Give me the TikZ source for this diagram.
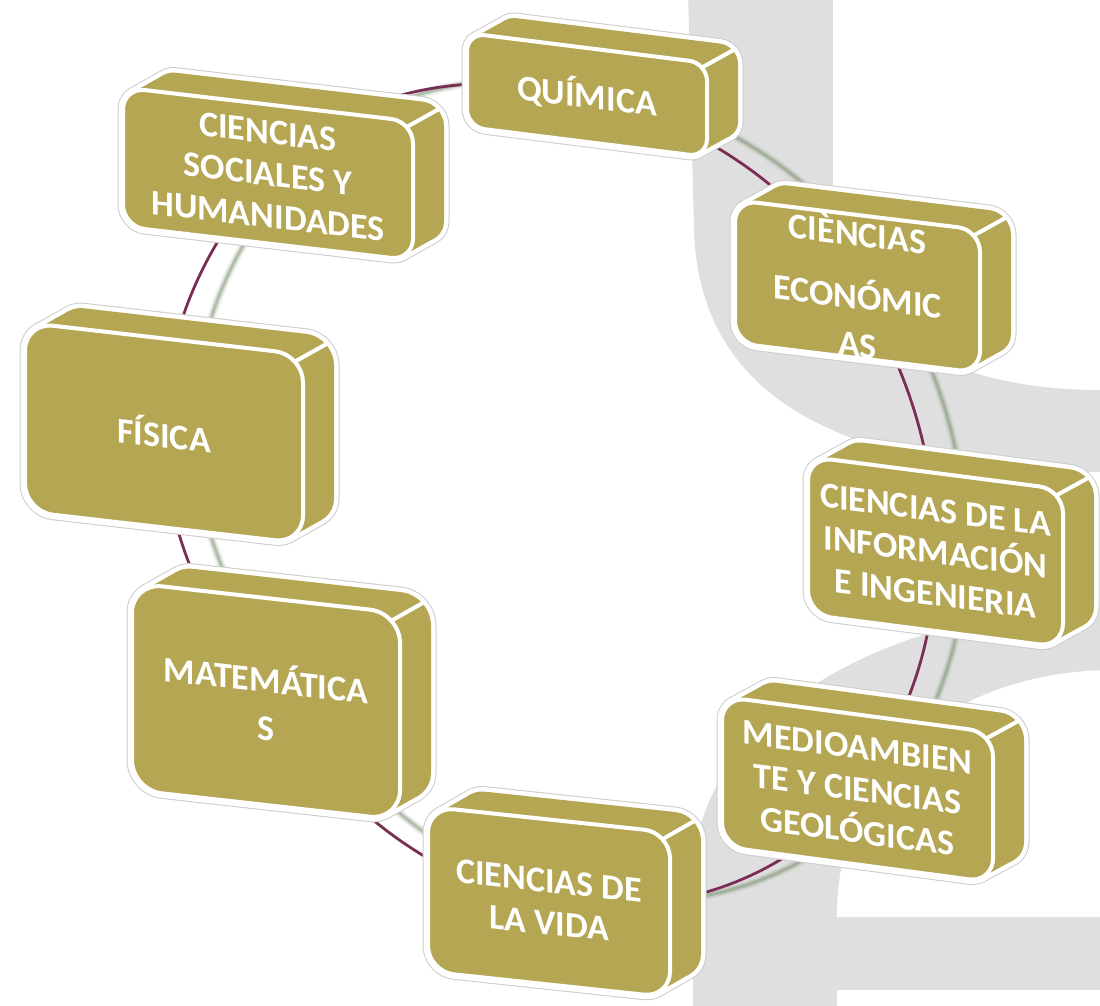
\documentclass[tikz,border=0pt]{standalone}
\usepackage{fontspec}
\setmainfont{Carlito}
\pgfdeclarelayer{deep}
\pgfdeclarelayer{links}
\pgfsetlayers{deep,links,main}
\definecolor{boxolive}{RGB}{181,166,84}
\definecolor{linkmaroon}{RGB}{122,46,86}
\definecolor{bggrey}{RGB}{223,223,223}
\definecolor{shadowgreen}{RGB}{115,140,105}
\tikzset{
  frontface/.style={draw=white, line width=4pt, fill=boxolive, text=white, align=center,
    inner sep=0pt, outer sep=0pt, font=\bfseries\fontsize{36}{42}\selectfont},
  outerhalo/.style={draw=black!20, line width=11pt, line join=round, line cap=round},
  outerwhite/.style={draw=white, line width=9pt, line join=round, line cap=round},
  bodyfill/.style={fill=boxolive},
  edgeline/.style={draw=white, line width=4pt, line cap=round},
  link/.style={draw=linkmaroon, line width=2.8pt, looseness=0.9},
  linkshadow/.style={draw=shadowgreen, looseness=0.9}
}
% the two faces (front and back) of a box, in the box's own frame
\newcommand{\obshapes}[2]{%
  \path[#1, rounded corners=#2pt] (-\obw+31,-\obh+21) rectangle (\obw+31,\obh+21);
  \path[#1, rounded corners=#2pt] (-\obw,-\obh) rectangle (\obw,\obh);
}
% #1 name, #2 x, #3 y (image), #4 width, #5 height, #6 corner radius, #7 slant, #8 text
\newcommand{\olivebox}[8]{%
  \begin{scope}[shift={(#2,-#3)}, yslant=-#7]
    \pgfmathsetmacro{\obw}{#4/2}
    \pgfmathsetmacro{\obh}{#5/2}
    \pgfmathsetmacro{\obax}{-\obw+0.4453*#6}
    \pgfmathsetmacro{\obay}{\obh-0.168*#6}
    \pgfmathsetmacro{\obbx}{\obw-0.4453*#6}
    \pgfmathsetmacro{\obby}{-\obh+0.168*#6}
    \pgfmathsetmacro{\obex}{\obw-0.293*#6}
    \pgfmathsetmacro{\obey}{\obh-0.293*#6}
    \obshapes{outerhalo}{#6}
    \path[outerhalo] (\obax,\obay) -- ++(31,21) (\obbx,\obby) -- ++(31,21);
    \obshapes{outerwhite}{#6}
    \path[outerwhite] (\obax,\obay) -- ++(31,21) (\obbx,\obby) -- ++(31,21);
    \obshapes{bodyfill}{#6}
    \fill[boxolive] (\obax,\obay) -- ++(31,21) -- (\obbx+31,\obby+21) -- (\obbx,\obby) -- cycle;
    \path[edgeline] (\obex,\obey) -- ++(31,21);
    \node[frontface, minimum width=#4pt, minimum height=#5pt, rounded corners=#6pt,
      transform shape] (#1) at (0,0) {#8};
  \end{scope}}
\newcommand{\cyclelinks}[1]{%
  \draw[#1] (qui.center) to[out=-14,in=121] (eco.center);
  \draw[#1] (eco.center) to[out=-59,in=90] (inf.center);
  \draw[#1] (inf.center) to[out=-90,in=54] (med.center);
  \draw[#1] (med.center) to[out=-126,in=-9] (vid.center);
  \draw[#1] (vid.center) to[out=171,in=-55] (mat.center);
  \draw[#1] (mat.center) to[out=125,in=-90] (fis.center);
  \draw[#1] (fis.center) to[out=90,in=-132] (soc.center);
  \draw[#1] (soc.center) to[out=48,in=166] (qui.center);
}
\begin{document}
\begin{tikzpicture}[x=1pt,y=1pt]
\useasboundingbox (0,0) rectangle (1100,-1006);
% background letters
\begin{pgfonlayer}{deep}
  \clip (0,0) rectangle (1100,-1006);
  \fill[white] (0,0) rectangle (1100,-1006);
  \fill[bggrey] (688,10) -- (694,-230) .. controls (700,-420) and (880,-475) .. (1110,-472) -- (1110,10) -- cycle;
  \fill[white] (833,10) -- (833,-200) .. controls (835,-330) and (950,-392) .. (1110,-390) -- (1110,10) -- cycle;
  \fill[bggrey] (693,-1010) -- (693,-880) .. controls (693,-720) and (880,-610) .. (1110,-605) -- (1110,-1010) -- cycle;
  \fill[white] (837,-917) .. controls (837,-760) and (960,-672) .. (1110,-670) -- (1110,-917) -- cycle;
  \fill[white] (837,-990) rectangle (1110,-1010);
\end{pgfonlayer}
% boxes
\olivebox{qui}{587}{95}{240}{94}{18}{0.125}{QUÍMICA}
\olivebox{eco}{857.5}{286.5}{245}{143}{22}{0.122}{CIÈNCIAS\\[21pt]ECONÓMIC\\[6pt]AS}
\olivebox{inf}{935.5}{552}{255}{158}{24}{0.129}{CIENCIAS DE LA\\INFORMACIÓN\\E INGENIERIA}
\olivebox{med}{857.5}{789.5}{271}{150}{24}{0.133}{MEDIOAMBIEN\\TE Y CIENCIAS\\GEOLÓGICAS}
\olivebox{vid}{549}{902}{242}{165}{26}{0.107}{CIENCIAS DE\\LA VIDA}
\olivebox{mat}{266}{701.5}{268}{207}{30}{0.112}{MATEMÁTICA\\[6pt]S}
\olivebox{fis}{164}{433}{278}{189}{28}{0.115}{FÍSICA}
\olivebox{soc}{268}{174}{290}{139}{22}{0.117}{CIENCIAS\\SOCIALES Y\\HUMANIDADES}
% cycle connectors, behind the boxes
\begin{pgfonlayer}{links}
  \begin{scope}[transform canvas={xshift=30pt,yshift=4pt}]
    \cyclelinks{linkshadow, line width=9pt, draw opacity=0.08}
    \cyclelinks{linkshadow, line width=6pt, draw opacity=0.18}
    \cyclelinks{linkshadow, line width=3pt, draw opacity=0.4}
  \end{scope}
  \cyclelinks{link}
\end{pgfonlayer}
\end{tikzpicture}
\end{document}
